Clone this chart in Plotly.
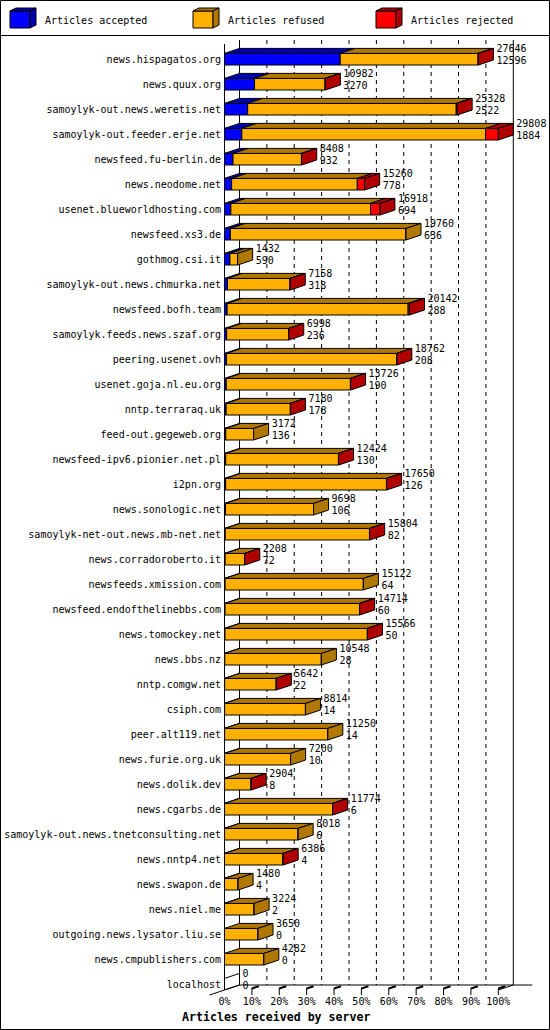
import plotly.graph_objects as go

# data
servers = [
    "news.hispagatos.org", "news.quux.org", "samoylyk-out.news.weretis.net",
    "samoylyk-out.feeder.erje.net", "newsfeed.fu-berlin.de", "news.neodome.net",
    "usenet.blueworldhosting.com", "newsfeed.xs3.de", "gothmog.csi.it",
    "samoylyk-out.news.chmurka.net", "newsfeed.bofh.team", "samoylyk.feeds.news.szaf.org",
    "peering.usenet.ovh", "usenet.goja.nl.eu.org", "nntp.terraraq.uk",
    "feed-out.gegeweb.org", "newsfeed-ipv6.pionier.net.pl", "i2pn.org",
    "news.sonologic.net", "samoylyk-net-out.news.mb-net.net", "news.corradoroberto.it",
    "newsfeeds.xmission.com", "newsfeed.endofthelinebbs.com", "news.tomockey.net",
    "news.bbs.nz", "nntp.comgw.net", "csiph.com", "peer.alt119.net",
    "news.furie.org.uk", "news.dolik.dev", "news.cgarbs.de",
    "samoylyk-out.news.tnetconsulting.net", "news.nntp4.net", "news.swapon.de",
    "news.niel.me", "outgoing.news.lysator.liu.se", "news.cmpublishers.com", "localhost",
]
totals = [27646, 10982, 25328, 29808, 8408, 15260, 16918, 19760, 1432, 7158,
          20142, 6998, 18762, 13726, 7180, 3172, 12424, 17650, 9698, 15804,
          2208, 15122, 14714, 15566, 10548, 5642, 8814, 11250, 7200, 2904,
          11774, 8018, 6386, 1480, 3224, 3650, 4282, 0]
accepted = [12596, 3270, 2522, 1884, 932, 778, 694, 636, 590, 318,
            288, 236, 208, 190, 178, 136, 130, 126, 106, 82,
            72, 64, 60, 50, 28, 22, 14, 14, 10, 8,
            6, 6, 4, 4, 2, 0, 0, 0]
refused = [15010, 7682, 22706, 26544, 7446, 13682, 15204, 19124, 842, 6820,
           19704, 6752, 18534, 13516, 6992, 3036, 12274, 17504, 9592, 15702,
           2126, 15058, 14644, 15506, 10520, 5610, 8800, 11236, 7190, 2886,
           11758, 8012, 6372, 1476, 3222, 3650, 4282, 0]
rejected = [40, 30, 100, 1380, 30, 800, 1020, 0, 0, 20,
            150, 10, 20, 20, 10, 0, 20, 20, 0, 20,
            10, 0, 10, 10, 0, 10, 0, 0, 0, 10,
            10, 0, 10, 0, 0, 0, 0, 0]
series_names = ["Articles accepted", "Articles refused", "Articles rejected"]
tick_labels = ["0%", "10%", "20%", "30%", "40%", "50%", "60%", "70%", "80%", "90%", "100%"]

FRONT = ["#0000FF", "#FFB000", "#FF0000"]
SHADE = ["#0000B0", "#B07800", "#B00000"]
FONT = "DejaVu Sans Mono"

# page geometry (pixels)
W, H = 550, 1030
L, R, T, B = 224, 540, 38, 990
PW, PH = R - L, B - T
X0PX = 224.5          # pixel of value 0 on the front plane
FULLPX = 273.8        # pixels for 100 %
ROW0, STEP = 59.2, 25.0
DEPX, DEPY = 15, 5    # 3d depth in pixels

xmax = max(totals)
kx = FULLPX / xmax
DX = DEPX / kx
DY = DEPY / STEP
HH = 5.8 / STEP
n = len(servers)
rows = list(range(n))


def xpx(v):
    return X0PX + v * kx


def px(x, y):
    return (x - L) / PW, (B - y) / PH


fig = go.Figure()

series = [accepted, refused, rejected]
bases = [[0] * n, accepted, [a + r for a, r in zip(accepted, refused)]]

# front faces
for s in range(3):
    fig.add_trace(go.Bar(
        y=rows, x=series[s], base=bases[s], orientation="h", width=2 * HH,
        marker=dict(color=FRONT[s], line=dict(color="black", width=1)),
        name=series_names[s], hoverinfo="skip",
    ))

# top faces
for s in range(3):
    xs, ys = [], []
    for i in rows:
        v = series[s][i]
        if v <= 0:
            continue
        a, b = bases[s][i], bases[s][i] + v
        yt = i - HH
        xs += [a, b, b + DX, a + DX, a, None]
        ys += [yt, yt, yt - DY, yt - DY, yt, None]
    fig.add_trace(go.Scatter(x=xs, y=ys, mode="lines", fill="toself",
                             fillcolor=SHADE[s], line=dict(color="black", width=1),
                             hoverinfo="skip"))

# side faces, coloured by the last non-empty segment
side_colors = SHADE + ["white"]
for c in range(4):
    xs, ys = [], []
    for i in rows:
        last = 3
        for s in range(3):
            if series[s][i] > 0:
                last = s
        if last != c:
            continue
        t = accepted[i] + refused[i] + rejected[i]
        xs += [t, t + DX, t + DX, t, t, None]
        ys += [i - HH, i - HH - DY, i + HH - DY, i + HH, i - HH, None]
    fig.add_trace(go.Scatter(x=xs, y=ys, mode="lines", fill="toself",
                             fillcolor=side_colors[c], line=dict(color="black", width=1),
                             hoverinfo="skip"))

# value labels: total above, accepted below
lab_x = [t + DX + 3 / kx for t in totals]
fig.add_trace(go.Scatter(x=lab_x, y=[i - 9.3 / STEP for i in rows], mode="text",
                         text=[str(v) for v in totals], textposition="middle right",
                         textfont=dict(family=FONT, size=10, color="black"),
                         cliponaxis=False, hoverinfo="skip"))
fig.add_trace(go.Scatter(x=lab_x, y=[i + 1.8 / STEP for i in rows], mode="text",
                         text=[str(v) for v in accepted], textposition="middle right",
                         textfont=dict(family=FONT, size=10, color="black"),
                         cliponaxis=False, hoverinfo="skip"))

shapes = []


def line(x0, y0, x1, y1, width=1, dash="solid", layer="above"):
    a, b = px(x0, y0)
    c, d = px(x1, y1)
    shapes.append(dict(type="line", xref="paper", yref="paper", x0=a, y0=b, x1=c, y1=d,
                       line=dict(color="black", width=width, dash=dash), layer=layer))


# outer frame and legend separator
line(0.5, 0.5, 549.5, 0.5)
line(549.5, 0.5, 549.5, 1029.5)
line(549.5, 1029.5, 0.5, 1029.5)
line(0.5, 1029.5, 0.5, 0.5)
line(0, 35.5, 550, 35.5)

# back plane
line(xpx(0) + DEPX, 40, xpx(0) + DEPX, B - DEPY, layer="below")
line(xpx(xmax) + DEPX, 40, xpx(xmax) + DEPX, B - DEPY, layer="below")
for k in range(1, 10):
    gx = xpx(xmax * k / 10) + DEPX
    line(gx, 40, gx, B - DEPY, dash="4px,4px", layer="below")
# front left axis
line(xpx(0), 44, xpx(0), B, layer="below")
# floor
line(xpx(0) + DEPX, B - DEPY, xpx(xmax) + DEPX + 19, B - DEPY)
line(xpx(0) - DEPX, B + DEPY, xpx(0) + DEPX, B - DEPY)
line(xpx(xmax), B, xpx(xmax) + DEPX, B - DEPY)
for k in range(1, 11):
    tx = xpx(xmax * k / 10)
    line(tx, B - 2, tx, B + 5)
    line(tx, B - 1.5, tx + 7, B - 3.8, width=2)

# legend icons
annotations = []
legend_x = [10, 193, 376]
for j in range(3):
    fx = legend_x[j]
    pts = {
        "front": [(fx, 11), (fx + 20, 11), (fx + 20, 28), (fx, 28)],
        "top": [(fx, 11), (fx + 20, 11), (fx + 26, 8), (fx + 6, 8)],
        "side": [(fx + 20, 11), (fx + 26, 8), (fx + 26, 25), (fx + 20, 28)],
    }
    for face, col in (("front", FRONT[j]), ("top", SHADE[j]), ("side", SHADE[j])):
        p = [px(x, y) for x, y in pts[face]]
        path = "M " + " L ".join(f"{a},{b}" for a, b in p) + " Z"
        shapes.append(dict(type="path", xref="paper", yref="paper", path=path,
                           fillcolor=col, line=dict(color="black", width=1)))
    ax, ay = px(fx + 33, 20.5)
    annotations.append(dict(x=ax, y=ay, xref="paper", yref="paper", text=series_names[j],
                            showarrow=False, xanchor="left", yanchor="middle",
                            font=dict(family=FONT, size=10, color="black")))

tx, ty = px(180, 1017)
annotations.append(dict(x=tx, y=ty, xref="paper", yref="paper",
                        text="<b>Articles received by server</b>", showarrow=False,
                        xanchor="left", yanchor="middle",
                        font=dict(family=FONT, size=11.6, color="black")))

fig.update_layout(
    width=W, height=H,
    margin=dict(l=L, r=W - R, t=T, b=H - B, pad=0, autoexpand=False),
    barmode="overlay", showlegend=False, hovermode=False,
    paper_bgcolor="white", plot_bgcolor="white",
    shapes=shapes, annotations=annotations,
    xaxis=dict(range=[-(X0PX - L) / kx, (R - X0PX) / kx], automargin=False,
               tickvals=[xmax * k / 10 for k in range(11)], ticktext=tick_labels,
               showgrid=False, zeroline=False, showline=False, ticks="",
               ticklabelstandoff=4,
               tickfont=dict(family=FONT, size=10, color="black")),
    yaxis=dict(range=[(B - ROW0) / STEP, (T - ROW0) / STEP], automargin=False,
               tickvals=rows, ticktext=servers,
               showgrid=False, zeroline=False, showline=False, ticks="",
               ticklabelstandoff=2,
               tickfont=dict(family=FONT, size=10, color="black")),
)

# page body margin off so the 550x1030 figure fills the window
fig.write_html("out.html", config={"displayModeBar": False},
               post_script="document.body.style.margin='0';")
